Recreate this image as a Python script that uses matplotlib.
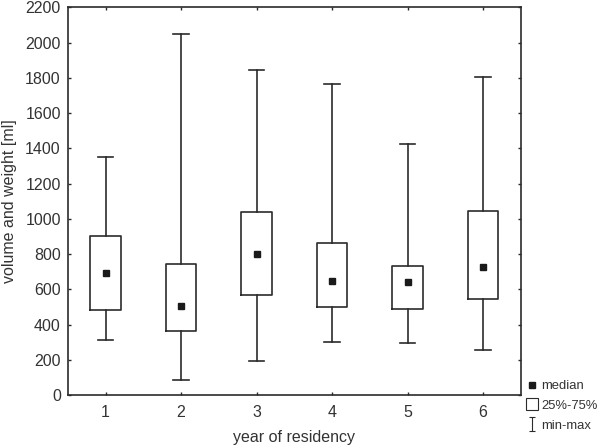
import matplotlib
matplotlib.use("Agg")
import matplotlib.pyplot as plt
from matplotlib.lines import Line2D
from matplotlib.path import Path

# values
years = [1, 2, 3, 4, 5, 6]
medians = [695, 508, 799, 648, 642, 729]
q1 = [484, 366, 570, 500, 491, 546]
q3 = [901, 744, 1037, 862, 735, 1047]
mins = [315, 85, 196, 304, 298, 255]
maxs = [1353, 2048, 1844, 1765, 1426, 1803]

plt.rcParams['font.family'] = ['Liberation Sans', 'DejaVu Sans']
ink = '#2b2b2b'
txt = '#333333'

fig = plt.figure(figsize=(6, 4.46), dpi=100)
ax = fig.add_axes([0.113, 0.1137, 0.755, 0.87])

stats = []
for y, md, lo, hi, mn, mx in zip(years, medians, q1, q3, mins, maxs):
    stats.append(dict(med=md, q1=lo, q3=hi, whislo=mn, whishi=mx, fliers=[], label=str(y)))

ax.bxp(stats, positions=years, widths=0.4, capwidths=0.2, showfliers=False,
       boxprops=dict(color=ink, linewidth=1.2),
       whiskerprops=dict(color=ink, linewidth=1.2),
       capprops=dict(color=ink, linewidth=1.2),
       medianprops=dict(linewidth=0))
ax.plot(years, medians, 's', color='#1a1a1a', markersize=5, linestyle='none')

ax.set_xlim(0.5, 6.5)
ax.set_ylim(0, 2200)
ax.set_yticks(range(0, 2201, 200))
ax.set_xticks(years)
ax.set_xticklabels([str(y) for y in years])

for sp in ax.spines.values():
    sp.set_color(ink)
    sp.set_linewidth(1.2)
ax.tick_params(direction='in', length=2, width=1, colors=ink, labelcolor=txt,
               labelsize=11.5, top=True, right=True)
ax.tick_params(axis='x', pad=7)
ax.tick_params(axis='y', pad=5)

ax.set_xlabel('year of residency', fontsize=11.5, color=txt, labelpad=7)
ax.set_ylabel('volume and weight [ml]', fontsize=11.5, color=txt, labelpad=6)

# whisker-shaped legend symbol
cap_path = Path([(-0.5, -1), (0.5, -1), (0, -1), (0, 1), (-0.5, 1), (0.5, 1)],
                [Path.MOVETO, Path.LINETO, Path.MOVETO, Path.LINETO, Path.MOVETO, Path.LINETO])
handles = [
    Line2D([], [], marker='s', color='#1a1a1a', markersize=4, linestyle='none'),
    Line2D([], [], marker='s', markerfacecolor='white', markeredgecolor=ink,
           markersize=8, markeredgewidth=0.8, linestyle='none'),
    Line2D([], [], marker=cap_path, color=ink, markersize=10, markeredgewidth=0.8,
           linestyle='none'),
]
leg = fig.legend(handles, ['median', '25%-75%', 'min-max'], loc='lower left',
                 bbox_to_anchor=(0.862, 0.012), frameon=False, fontsize=9.4,
                 handlelength=0.9, handletextpad=0.25, labelspacing=0.58,
                 borderpad=0.2, labelcolor=txt)

fig.savefig('out.png', dpi=100)
